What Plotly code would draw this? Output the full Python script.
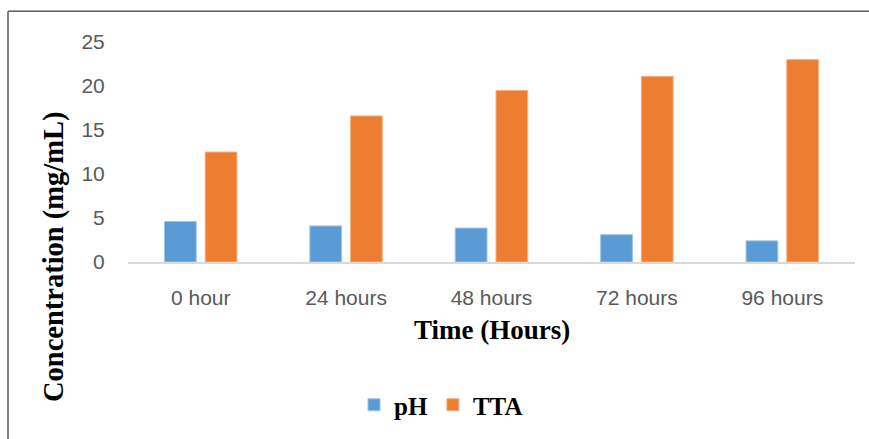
import plotly.graph_objects as go

# Fermentation measurements over time
time_points = ["0 hour", "24 hours", "48 hours", "72 hours", "96 hours"]
ph_values = [4.6, 4.1, 3.85, 3.1, 2.4]
tta_values = [12.5, 16.6, 19.5, 21.1, 23.0]
y_ticks = [0, 5, 10, 15, 20, 25]

BLUE = "#5B9BD5"
ORANGE = "#ED7D31"
TICK_GREY = "#595959"

fig = go.Figure()
fig.add_trace(go.Bar(
    x=time_points, y=ph_values, name="pH",
    marker=dict(color=BLUE, line=dict(color="#9DC3E6", width=1)),
))
fig.add_trace(go.Bar(
    x=time_points, y=tta_values, name="TTA",
    marker=dict(color=ORANGE, line=dict(color="#F4B183", width=1)),
))

W, H = 869, 439
L, R, T, B = 128, 14, 42, 176
plot_w = W - L - R
plot_h = H - T - B


def px_x(x):
    return (x - L) / plot_w


def px_y(y):
    return (H - B - y) / plot_h


fig.update_layout(
    width=W, height=H,
    margin=dict(l=L, r=R, t=T, b=B),
    paper_bgcolor="white",
    plot_bgcolor="white",
    barmode="group",
    bargap=0.44,
    bargroupgap=0.22,
    showlegend=True,
    legend=dict(
        orientation="h",
        x=px_x(441), y=px_y(405),
        xanchor="center", yanchor="middle",
        font=dict(family="Liberation Serif, Times New Roman, serif", size=25,
                  color="black", weight="bold"),
        itemwidth=30,
        tracegroupgap=0,
    ),
    xaxis=dict(
        showline=True, linecolor="#D9D9D9", linewidth=1.5,
        showgrid=False, zeroline=False,
        ticks="outside", ticklen=16, tickcolor="rgba(0,0,0,0)",
        tickfont=dict(family="Liberation Sans, Arial, sans-serif", size=21,
                      color=TICK_GREY),
    ),
    yaxis=dict(
        range=[0, 25],
        tickvals=y_ticks,
        showline=False, showgrid=False, zeroline=False,
        ticks="outside", ticklen=18, tickcolor="rgba(0,0,0,0)",
        tickfont=dict(family="Liberation Sans, Arial, sans-serif", size=21,
                      color=TICK_GREY),
    ),
    annotations=[
        dict(text="Time (Hours)", xref="paper", yref="paper",
             x=0.501, y=px_y(331), xanchor="center", yanchor="middle",
             showarrow=False,
             font=dict(family="Liberation Serif, Times New Roman, serif",
                       size=27, color="black", weight="bold")),
        dict(text="Concentration (mg/mL)", xref="paper", yref="paper",
             x=px_x(54), y=px_y(258), xanchor="center", yanchor="middle",
             textangle=-90, showarrow=False,
             font=dict(family="Liberation Serif, Times New Roman, serif",
                       size=28.5, color="black", weight="bold")),
    ],
    shapes=[
        # chart frame: left and top edges
        dict(type="line", xref="paper", yref="paper",
             x0=px_x(8), x1=px_x(8), y0=px_y(11), y1=px_y(445),
             line=dict(color="#595959", width=1.5)),
        dict(type="line", xref="paper", yref="paper",
             x0=px_x(8), x1=px_x(875), y0=px_y(11), y1=px_y(11),
             line=dict(color="#595959", width=1.5)),
    ],
)

fig.write_html("out.html")
